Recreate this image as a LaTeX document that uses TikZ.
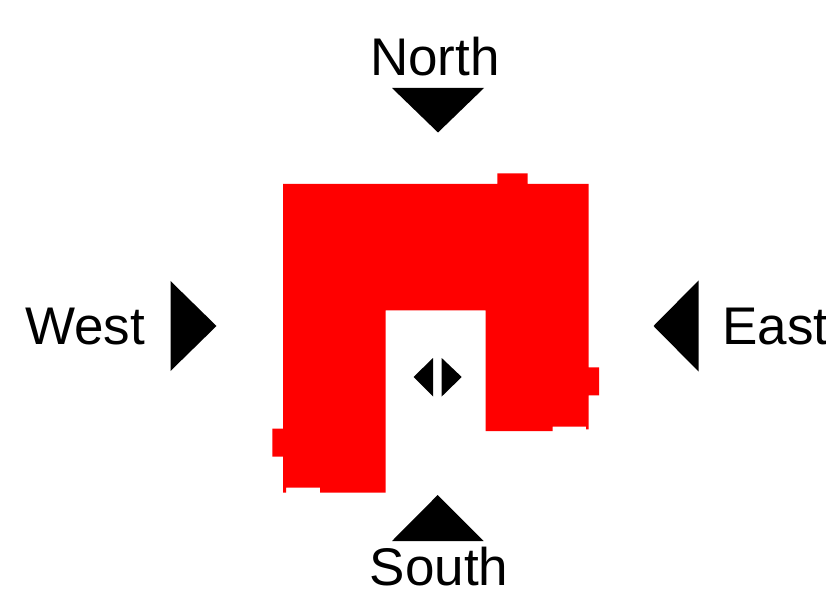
\documentclass[tikz,border=0pt]{standalone}
\usepackage{fontspec}
\setmainfont{Liberation Sans}
\definecolor{shapered}{RGB}{255,0,0}
\begin{document}
\begin{tikzpicture}[x=1pt,y=-1pt,
  label/.style={font=\fontsize{53}{62}\selectfont, inner sep=0pt, text=black},
  tri/.style={fill=black, draw=none},
  body/.style={fill=shapered, draw=none}]
\useasboundingbox (0,0) rectangle (826,609);
% red shape
\fill[body] (283,184) -- (497.3,184) -- (497.3,173.3) -- (527.7,173.3) -- (527.7,184)
  -- (588.7,184) -- (588.7,367.3) -- (599,367.3) -- (599,395.3) -- (588.7,395.3)
  -- (588.7,429.3) -- (586,429.3) -- (586,426.7) -- (552.7,426.7) -- (552.7,431)
  -- (485.7,431) -- (485.7,310.3) -- (385.7,310.3) -- (385.7,492.7) -- (320,492.7)
  -- (320,487.7) -- (286,487.7) -- (286,492.7) -- (283,492.7) -- (283,456.7)
  -- (272.3,456.7) -- (272.3,428.7) -- (283,428.7) -- cycle;
% centre arrows
\fill[tri] (413.5,377) -- (433,358) -- (433,396.5) -- cycle;
\fill[tri] (441.7,358) -- (461.7,377) -- (441.7,396.5) -- cycle;
% direction triangles
\fill[tri] (392,88) -- (484,88) -- (438,132.5) -- cycle;
\fill[tri] (392,541) -- (483.5,541) -- (437.7,495) -- cycle;
\fill[tri] (170.5,281) -- (216.5,326) -- (170.5,371) -- cycle;
\fill[tri] (698.5,280.5) -- (653.5,326) -- (698.5,371.5) -- cycle;
% labels
\node[label, anchor=base] (north) at (435,76) {North};
\node[label, anchor=base] (south) at (439,585) {South};
\node[label, anchor=base] (west) at (85,344) {West};
\node[label, anchor=base west] (east) at (722,344) {East};
\end{tikzpicture}
\end{document}
